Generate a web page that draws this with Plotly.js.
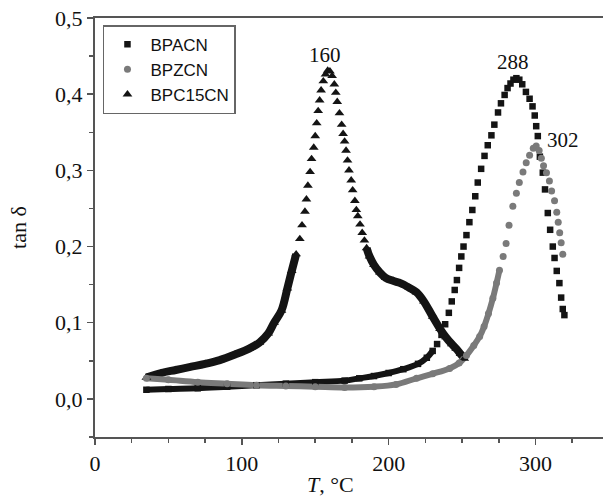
<!DOCTYPE html>
<html>
<head>
<meta charset="utf-8">
<script src="https://cdn.plot.ly/plotly-3.0.1.min.js"></script>
<style>html,body{margin:0;padding:0;background:#fff;}#chart{width:603px;height:501px;}</style>
</head>
<body>
<div id="chart"></div>
<script>
// ---- data ----
const seriesNames = ["BPACN", "BPZCN", "BPC15CN"];

const bpacnT = [35, 50, 70, 90, 110, 130, 150, 170, 180, 190, 200, 210, 220, 226, 230, 233, 236, 238.5, 241, 243, 245, 246.5, 248, 249.5, 251, 253, 255, 257, 259, 260.7, 263, 265.3, 267.5, 270, 272, 274.5, 276.5, 279, 281, 283, 285, 287, 289, 291, 293.5, 296, 298, 299.5, 300.5, 301.6, 303, 305, 306.5, 308.4, 310, 311.8, 313, 314.5, 316.3, 317.5, 318.6, 319.7];
const bpacnTan = [0.012, 0.013, 0.014, 0.016, 0.018, 0.020, 0.022, 0.024, 0.027, 0.030, 0.034, 0.039, 0.046, 0.054, 0.063, 0.072, 0.084, 0.098, 0.113, 0.128, 0.143, 0.156, 0.172, 0.187, 0.200, 0.215, 0.232, 0.248, 0.266, 0.284, 0.302, 0.319, 0.333, 0.346, 0.360, 0.376, 0.388, 0.399, 0.408, 0.414, 0.419, 0.421, 0.419, 0.413, 0.403, 0.394, 0.384, 0.372, 0.358, 0.345, 0.318, 0.297, 0.275, 0.244, 0.222, 0.200, 0.185, 0.168, 0.152, 0.133, 0.118, 0.110];

const bpzcnT = [35, 50, 70, 90, 110, 130, 150, 170, 190, 205, 219, 230, 241.5, 248, 253, 258, 262, 265, 268, 271, 273.5, 275.5, 278, 280, 282, 284.6, 287, 289, 291.5, 293.7, 296, 298.5, 300.5, 302.5, 304, 305.5, 307.5, 309.5, 311, 313, 314.5, 315.5, 316.5, 317.5, 318.6];
const bpzcnTan = [0.027, 0.025, 0.022, 0.020, 0.018, 0.017, 0.016, 0.015, 0.016, 0.019, 0.027, 0.033, 0.040, 0.047, 0.057, 0.070, 0.082, 0.095, 0.112, 0.132, 0.152, 0.169, 0.187, 0.204, 0.228, 0.253, 0.270, 0.284, 0.298, 0.310, 0.320, 0.329, 0.332, 0.326, 0.316, 0.306, 0.297, 0.286, 0.273, 0.260, 0.245, 0.232, 0.218, 0.205, 0.190];

const bpc15cnT = [35, 45, 55, 65, 75, 85, 95, 105, 112, 118, 122, 127, 131, 134, 137, 139.5, 141, 143, 144, 145, 146.5, 147.5, 149, 150, 151, 152, 153, 154, 155.5, 157, 158.5, 160, 161.5, 163, 164, 165, 166.5, 168, 169, 170, 171, 172, 173, 174.5, 175.5, 177, 178, 179, 180.5, 182, 183.5, 185, 187, 190, 194, 198, 203, 208, 214, 219, 224, 230, 235, 239, 243, 246, 249, 251.5];
const bpc15cnTan = [0.028, 0.034, 0.038, 0.042, 0.046, 0.051, 0.058, 0.066, 0.074, 0.086, 0.100, 0.116, 0.145, 0.168, 0.190, 0.210, 0.228, 0.246, 0.262, 0.280, 0.298, 0.315, 0.330, 0.345, 0.362, 0.378, 0.392, 0.405, 0.417, 0.426, 0.431, 0.430, 0.424, 0.413, 0.402, 0.390, 0.375, 0.360, 0.348, 0.338, 0.326, 0.313, 0.300, 0.287, 0.274, 0.260, 0.248, 0.240, 0.229, 0.218, 0.208, 0.198, 0.187, 0.176, 0.166, 0.159, 0.155, 0.152, 0.146, 0.140, 0.128, 0.108, 0.092, 0.081, 0.072, 0.066, 0.059, 0.053];

const peakLabels = ["160", "288", "302"];
const peakLabelT = [156.7, 284.7, 318.8];
const peakLabelTan = [0.451, 0.442, 0.340];

const xTickVals = [0, 100, 200, 300];
const yTickVals = [0, 0.1, 0.2, 0.3, 0.4, 0.5];
const yTickText = ["0,0", "0,1", "0,2", "0,3", "0,4", "0,5"];

// ---- build traces ----
function bandOnly(ys, limit) { return ys.map(v => (v < limit ? v : null)); }

const black = "#141414", grey = "#7a7a7a";

const traces = [
  // continuous dense bands (where the markers overlap in the reference)
  {x: bpacnT, y: bandOnly(bpacnTan, 0.07), mode: "lines", line: {color: black, width: 6, shape: "spline"}, showlegend: false, hoverinfo: "skip", connectgaps: false},
  {x: bpc15cnT, y: bandOnly(bpc15cnTan, 0.205), mode: "lines", line: {color: black, width: 8, shape: "spline"}, showlegend: false, hoverinfo: "skip", connectgaps: false},
  {x: bpzcnT, y: bandOnly(bpzcnTan, 0.17), mode: "lines", line: {color: grey, width: 6, shape: "spline"}, showlegend: false, hoverinfo: "skip", connectgaps: false},
  // markers
  {x: bpacnT, y: bpacnTan, name: seriesNames[0], mode: "markers", marker: {symbol: "square", size: 6.5, color: black}, legendrank: 1},
  {x: bpc15cnT, y: bpc15cnTan, name: seriesNames[2], mode: "markers", marker: {symbol: "triangle-up", size: 8.5, color: black}, legendrank: 3},
  {x: bpzcnT, y: bpzcnTan, name: seriesNames[1], mode: "markers", marker: {symbol: "circle", size: 7, color: grey}, legendrank: 2}
];

const serif = "Liberation Serif, DejaVu Serif, serif";

const annotations = peakLabels.map((t, i) => ({
  x: peakLabelT[i], y: peakLabelTan[i], xref: "x", yref: "y", text: t, showarrow: false,
  font: {family: serif, size: 21, color: "#111"}
}));
annotations.push({
  x: 0.4626, y: -0.113, xref: "paper", yref: "paper", text: "<i>T</i>, °C", showarrow: false,
  yanchor: "middle", font: {family: serif, size: 22, color: "#111"}
});

const layout = {
  width: 603, height: 501,
  margin: {l: 95, r: 0, t: 18, b: 64},
  paper_bgcolor: "#fff", plot_bgcolor: "#fff",
  showlegend: true,
  legend: {
    x: 0.0157, y: 0.983, xanchor: "left", yanchor: "top",
    bgcolor: "#fff", bordercolor: "#666", borderwidth: 1.5,
    font: {family: "Liberation Sans, Arial, sans-serif", size: 17, color: "#111"},
    traceorder: "normal", itemwidth: 36
  },
  xaxis: {
    range: [0, 346], tickvals: xTickVals, ticktext: xTickVals.map(String),
    showgrid: false, zeroline: false,
    showline: true, linecolor: "#555", linewidth: 2, mirror: true,
    ticks: "outside", ticklen: 6, tickwidth: 1.5, tickcolor: "#555",
    minor: {dtick: 25, ticks: "outside", ticklen: 4, tickwidth: 1.5, tickcolor: "#555"},
    tickfont: {family: serif, size: 22, color: "#111"}
  },
  yaxis: {
    range: [-0.05, 0.5], tickvals: yTickVals, ticktext: yTickText,
    showgrid: false, zeroline: false,
    showline: true, linecolor: "#555", linewidth: 2,
    ticks: "outside", ticklen: 6, tickwidth: 1.5, tickcolor: "#555",
    minor: {dtick: 0.05, ticks: "outside", ticklen: 4, tickwidth: 1.5, tickcolor: "#555"},
    tickfont: {family: serif, size: 22, color: "#111"},
    title: {text: "tan δ", font: {family: serif, size: 22, color: "#111"}, standoff: 22}
  },
  annotations: annotations
};

Plotly.newPlot("chart", traces, layout, {displayModeBar: false, staticPlot: true});
</script>
</body>
</html>
